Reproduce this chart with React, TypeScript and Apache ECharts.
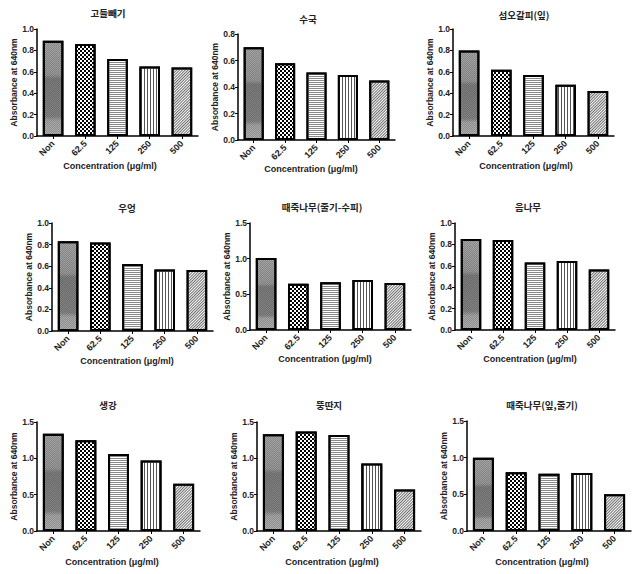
import React, { useEffect, useRef } from "react";
import * as echarts from "echarts";

const categories = ["Non", "62.5", "125", "250", "500"];
const titles = ["고들빼기", "수국", "섬오갈피(잎)", "우엉", "때죽나무(줄기-수피)", "음나무", "생강", "뚱딴지", "때죽나무(잎,줄기)"];
const v1 = [0.89, 0.86, 0.72, 0.65, 0.64];
const v2 = [0.70, 0.58, 0.51, 0.49, 0.45];
const v3 = [0.80, 0.62, 0.57, 0.48, 0.42];
const v4 = [0.83, 0.82, 0.62, 0.57, 0.565];
const v5 = [1.01, 0.65, 0.67, 0.70, 0.66];
const v6 = [0.85, 0.84, 0.63, 0.645, 0.565];
const v7 = [1.34, 1.25, 1.06, 0.97, 0.65];
const v8 = [1.33, 1.37, 1.32, 0.93, 0.57];
const v9 = [1.0, 0.80, 0.78, 0.79, 0.50];
const seriesValues = [v1, v2, v3, v4, v5, v6, v7, v8, v9];
const yMax = [1.0, 0.8, 1.0, 1.0, 1.5, 1.0, 1.5, 1.5, 1.5];
const yInterval = [0.2, 0.2, 0.2, 0.2, 0.5, 0.2, 0.5, 0.5, 0.5];
const yName = "Absorbance at 640nm";
const xName = "Concentration (\u03bcg/ml)";

// layout: [left, top, width, height]
const grids = [
  [37, 29, 161, 107],
  [238, 34, 157, 106],
  [453, 29, 161, 107],
  [52, 223, 161, 108],
  [250, 223, 161, 107],
  [455, 223, 160, 107],
  [37, 422, 163, 109],
  [257, 422, 164, 109],
  [467, 421, 164, 110],
];
const titlePos = [
  [108, 13], [308, 19], [524, 15],
  [127, 208], [322, 207], [528, 207],
  [108, 405], [329, 405], [542, 405],
];
const xNamePos = [
  [110, 166], [311, 169], [526, 166],
  [127, 361], [325, 359], [530, 359],
  [112, 562], [332, 562], [542, 562],
];

const LAT = "'Liberation Sans', Arial, sans-serif";
const KR = "'Noto Sans CJK KR', sans-serif";

const barStyles: any[] = [
  {
    color: {
      type: "linear", x: 0, y: 0, x2: 0, y2: 1,
      colorStops: [
        { offset: 0, color: "#a6a6a6" },
        { offset: 0.35, color: "#9a9a9a" },
        { offset: 0.4, color: "#7e7e7e" },
        { offset: 0.8, color: "#858585" },
        { offset: 0.85, color: "#a8a8a8" },
        { offset: 1, color: "#b0b0b0" },
      ],
    },
    decal: { symbol: "rect", symbolSize: 1, dashArrayX: [[1, 1], [0, 1, 1, 0]], dashArrayY: [1, 0], color: "rgba(0,0,0,0.18)" },
  },
  {
    color: "#ffffff",
    decal: { symbol: "rect", symbolSize: 1, dashArrayX: [[2, 2], [0, 2, 2, 0]], dashArrayY: [2, 0], color: "#000000" },
  },
  {
    color: "#ffffff",
    decal: { symbol: "rect", symbolSize: 1, dashArrayX: [1, 0], dashArrayY: [1, 1], color: "#8a8a8a" },
  },
  {
    color: "#ffffff",
    decal: { symbol: "rect", symbolSize: 1, dashArrayX: [1, 2], dashArrayY: [1, 0], color: "#555555" },
  },
  {
    color: "#ffffff",
    decal: { symbol: "rect", symbolSize: 1, dashArrayX: [1, 0], dashArrayY: [1, 1], rotation: -Math.PI / 4, color: "#6a6a6a" },
  },
];

export default function App() {
  const ref = useRef<HTMLDivElement>(null);
  useEffect(() => {
    if (!ref.current) return;
    const chart = echarts.init(ref.current, undefined, { renderer: "svg" });
    const option: any = {
      animation: false,
      backgroundColor: "#ffffff",
      grid: grids.map((g) => ({ left: g[0], top: g[1], width: g[2], height: g[3], containLabel: false })),
      xAxis: grids.map((_, i) => ({
        type: "category",
        gridIndex: i,
        data: categories,
        axisLine: { lineStyle: { color: "#000", width: 1.5 } },
        axisTick: { show: true, alignWithLabel: true, length: 3, lineStyle: { color: "#000", width: 1 } },
        axisLabel: { rotate: 45, margin: 6, color: "#222", fontSize: 9, fontWeight: "bold", fontFamily: LAT, interval: 0 },
      })),
      yAxis: grids.map((_, i) => ({
        type: "value",
        gridIndex: i,
        min: 0,
        max: yMax[i],
        interval: yInterval[i],
        name: yName,
        nameLocation: "middle",
        nameGap: 19,
        nameTextStyle: { color: "#222", fontSize: 8.5, fontWeight: "bold", fontFamily: LAT },
        splitLine: { show: false },
        axisLine: { show: true, lineStyle: { color: "#000", width: 1.5 } },
        axisTick: { show: true, length: 3, lineStyle: { color: "#000", width: 1 } },
        axisLabel: { margin: 3, color: "#222", fontSize: 8.5, fontWeight: "bold", fontFamily: LAT, formatter: (v: number) => v.toFixed(1) },
      })),
      series: seriesValues.map((vals, i) => ({
        type: "bar",
        xAxisIndex: i,
        yAxisIndex: i,
        barCategoryGap: "36%",
        data: vals.map((v, j) => ({
          value: v,
          itemStyle: { ...barStyles[j], borderColor: "#000", borderWidth: 2 },
        })),
      })),
      graphic: [
        ...titles.map((t, i) => ({
          type: "text",
          x: titlePos[i][0],
          y: titlePos[i][1],
          style: { text: t, textAlign: "center", textVerticalAlign: "middle", verticalAlign: "middle", fill: "#222", font: `bold 9.5px ${KR}` },
        })),
        ...xNamePos.map((p) => ({
          type: "text",
          x: p[0],
          y: p[1],
          style: { text: xName, textAlign: "center", textVerticalAlign: "middle", verticalAlign: "middle", fill: "#222", font: `bold 9px ${LAT}` },
        })),
      ],
    };
    chart.setOption(option);
    return () => chart.dispose();
  }, []);
  return <div ref={ref} style={{ position: "fixed", left: 0, top: 0, width: 636, height: 574, background: "#fff" }} />;
}
